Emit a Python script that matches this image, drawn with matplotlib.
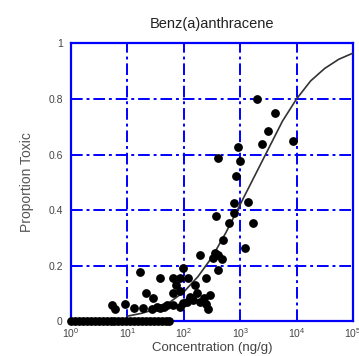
import numpy as np
import matplotlib.pyplot as plt

plt.rcParams['font.family'] = ['Liberation Sans', 'DejaVu Sans']

# observed points: log10 concentration (ng/g) and proportion toxic
obs_logx = [3.29, 3.62, 3.49, 3.38, 3.94, 2.96, 3.00, 2.61, 2.93, 2.89, 3.14,
            2.81, 3.23, 2.89, 2.58, 2.69, 3.09, 2.55, 2.61, 2.67, 2.52, 2.29,
            2.61, 1.99, 1.22, 1.57, 1.80, 1.93, 2.08, 2.39, 1.87, 2.20, 1.81,
            1.93, 2.23, 1.33, 1.46, 2.11, 2.46, 2.35, 2.29, 2.05, 2.43, 0.72,
            0.96, 0.78, 1.11, 1.28, 1.43, 1.58, 1.70, 1.81, 1.99, 2.17, 1.93,
            1.52, 1.65, 2.40]
obs_prop = [0.80, 0.75, 0.684, 0.637, 0.65, 0.628, 0.577, 0.587, 0.523, 0.426, 0.43,
            0.354, 0.354, 0.388, 0.378, 0.292, 0.265, 0.244, 0.238, 0.222, 0.228, 0.238,
            0.184, 0.193, 0.178, 0.154, 0.156, 0.156, 0.156, 0.154, 0.13, 0.13, 0.10,
            0.11, 0.10, 0.10, 0.084, 0.088, 0.094, 0.082, 0.07, 0.07, 0.042, 0.058,
            0.061, 0.043, 0.049, 0.049, 0.042, 0.049, 0.058, 0.058, 0.064, 0.076, 0.052,
            0.05, 0.05, 0.06]

# non-toxic samples along the bottom
zero_logx = [0.0, 0.07, 0.14, 0.21, 0.28, 0.35, 0.42, 0.49, 0.56, 0.63, 0.70,
             0.77, 0.84, 0.91, 0.98, 1.05, 1.12, 1.19, 1.26, 1.33, 1.40, 1.47,
             1.54, 1.61, 1.68, 1.74]
zero_prop = [0.0] * len(zero_logx)

# fitted curve
fit_logx = [1.0, 1.25, 1.5, 1.75, 2.0, 2.25, 2.5, 2.75, 3.0, 3.25, 3.5,
            3.75, 4.0, 4.25, 4.5, 4.75, 5.0]
fit_prop = [0.018, 0.028, 0.043, 0.068, 0.105, 0.16, 0.23, 0.32, 0.42, 0.52, 0.62,
            0.72, 0.80, 0.865, 0.91, 0.943, 0.965]

blue = '#0000ff'

fig = plt.figure(figsize=(3.59, 3.56), dpi=100)
ax = fig.add_axes([0.198, 0.098, 0.785, 0.78])

ax.plot(10 ** np.array(fit_logx), fit_prop, color='#333333', lw=1.2, zorder=3)
ax.scatter(10 ** np.array(obs_logx), obs_prop, s=28, color='black', zorder=4,
           clip_on=False)
ax.scatter(10 ** np.array(zero_logx), zero_prop, s=28, color='black', zorder=4,
           clip_on=False)

ax.set_xscale('log')
ax.set_xlim(1, 1e5)
ax.set_ylim(0, 1)
ax.set_xticks([1, 10, 100, 1e3, 1e4, 1e5])
ax.minorticks_off()
ax.set_yticks([0, 0.2, 0.4, 0.6, 0.8, 1])
ax.set_yticklabels(['0', '0.2', '0.4', '0.6', '0.8', '1'])

ax.grid(True, color=blue, lw=1.4, linestyle=(0, (6, 2, 1.5, 2)))
ax.set_axisbelow(True)
for sp in ax.spines.values():
    sp.set_color(blue)
    sp.set_linewidth(1.6)

ax.tick_params(length=0, labelsize=7.5, colors='#444444', pad=6)
ax.tick_params(axis='x', pad=4)
ax.set_title('Benz(a)anthracene', fontsize=10.5, color='#222222', pad=11)
ax.set_xlabel('Concentration (ng/g)', fontsize=9.5, color='#444444', labelpad=1)
ax.set_ylabel('Proportion Toxic', fontsize=10, color='#555555', labelpad=10)

fig.savefig('out.png', dpi=100)
